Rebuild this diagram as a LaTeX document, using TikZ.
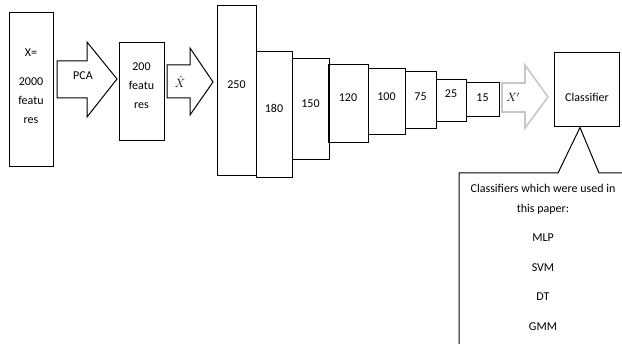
\documentclass[tikz,border=0pt]{standalone}
\usepackage{fontspec}
\setmainfont{Carlito}
\usetikzlibrary{positioning}
\tikzset{
	box/.style={draw=black,line width=1pt,fill=white,inner sep=0pt},
	layer/.style={draw=black,line width=1pt},
	blockarrow/.style={draw=black,line width=1pt,fill=white,line join=miter},
	glowarrow/.style={draw=black!22,line width=1.6pt,fill=white,line join=miter},
	txt/.style={font=\fontsize{12}{19}\selectfont,align=center,inner sep=0pt},
}

\begin{document}
\begin{tikzpicture}[x=1pt,y=-1pt]
	\useasboundingbox (0,0) rectangle (622,344);
	\clip (0,0) rectangle (622,344);
	% input and pca
	\node[box,minimum width=44,minimum height=154] (xin) at (31,90) {};
	\node[txt] (xtxt) at (31,86) {X=\\[10pt]2000\\featu\\res};
	\draw[blockarrow] (57,61) -- (87,61) -- (87,42) -- (117,79) -- (87,117) -- (87,98) -- (57,98) -- cycle;
	\node[txt] (pca) at (83,76) {PCA};
	\node[box,minimum width=45,minimum height=98] (red) at (141.5,92) {};
	\node[txt] (redtxt) at (141.5,86) {200\\featu\\res};
	\draw[blockarrow] (167,65) -- (190,65) -- (190,48) -- (213,82) -- (190,115) -- (190,98) -- (167,98) -- cycle;
	\node[txt] (xhat) at (180,82) {$\hat{X}$};
	% hidden layers
	\foreach \l/\r/\t/\b/\n/\ty in {217/256/6/176/250/85,256/292/52/178/180/108,292/329/59/160/150/104,
		328/368/65/143/120/98,368/405/69/135/100/97,405/436/72/129/75/97,436/466/80/122/25/94,466/499/83/117/15/98}
	{
		\draw[layer] (\l,\t) rectangle (\r,\b);
		\node[txt] (l\n) at ({(\l+\r)/2},\ty) {\n};
	}
	\draw[glowarrow] (502,83) -- (525,83) -- (525,65) -- (548,97) -- (525,128) -- (525,112) -- (502,112) -- cycle;
	\node[txt] (xprime) at (513,97) {$X'$};
	% classifier and callout
	\node[box,minimum width=65,minimum height=74] (clf) at (586.5,90) {};
	\node[txt] (clftxt) at (587,97) {Classifier};
	\draw[layer] ([xshift=-6.5]clf.south) -- (558,173) -- (459,173) -- (459,360);
	\draw[layer] ([xshift=-6.5]clf.south) -- (599,173) -- (640,173);
	\node[txt,font=\fontsize{12}{20}\selectfont] (cltxt) at (543,257)
		{Classifiers which were used in\\this paper:\\[9.5pt]MLP\\[9.5pt]SVM\\[9.5pt]DT\\[9.5pt]GMM};
\end{tikzpicture}
\end{document}
